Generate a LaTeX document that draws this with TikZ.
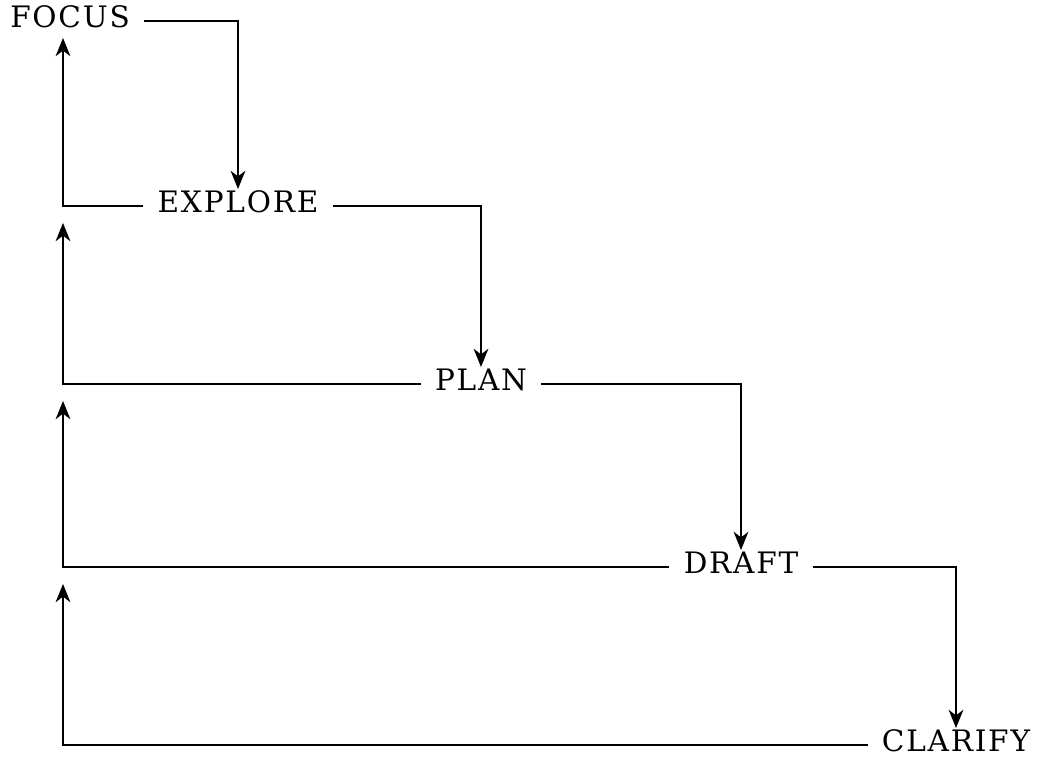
\documentclass[tikz,border=0pt]{standalone}
\usepackage{fontspec}
\setmainfont{DejaVu Serif}[LetterSpace=6]
\usetikzlibrary{arrows.meta}

\begin{document}
\begin{tikzpicture}[x=0.025cm, y=-0.025cm,
    stage/.style={inner xsep=14*0.025cm, inner ysep=10*0.025cm,
      text height=0.95em, text depth=0pt,
      font=\fontsize{21}{24}\selectfont},
    flow/.style={line width=1.1pt, -{Stealth[length=13pt, width=10.5pt, inset=4pt]}}]
  \useasboundingbox (0,0) rectangle (1040,768);

  \node[stage] (focus)   at (70,21)   {FOCUS};
  \node[stage] (explore) at (238,206) {EXPLORE};
  \node[stage] (plan)    at (481,384) {PLAN};
  \node[stage] (draft)   at (741,567) {DRAFT};
  \node[stage] (clarify) at (956,745) {CLARIFY};

  \coordinate (rail) at (63,0);

  % Forward steps
  \draw[flow] (focus.east)   -| (explore.north);
  \draw[flow] (explore.east) -| (plan.north);
  \draw[flow] (plan.east)    -| (draft.north);
  \draw[flow] (draft.east)   -| (clarify.north);

  % Loops back
  \draw[flow] (explore.west) -| (rail |- focus.south);
  \draw[flow] (plan.west)    -| (rail |- explore.south);
  \draw[flow] (draft.west)   -| (rail |- plan.south);
  \draw[flow] (clarify.west) -| (rail |- draft.south);

\end{tikzpicture}
\end{document}
